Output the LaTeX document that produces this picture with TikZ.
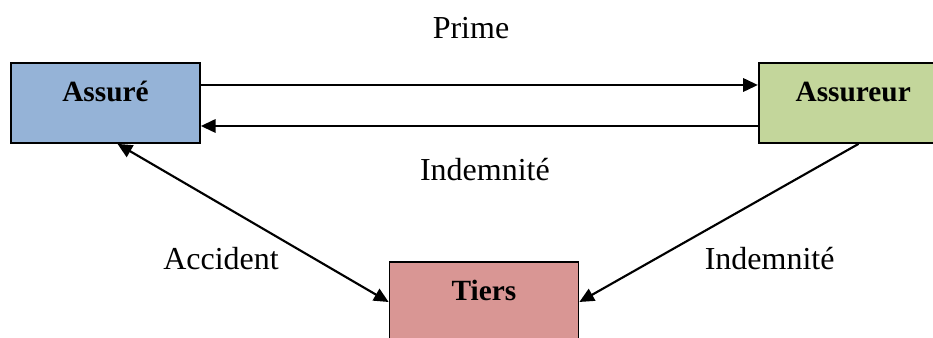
\documentclass[tikz,border=0pt]{standalone}
\usepackage{fontspec}
\setmainfont{Liberation Serif}
\usetikzlibrary{arrows.meta,positioning}
\definecolor{assurebleu}{RGB}{149,179,215}
\definecolor{assureurvert}{RGB}{195,214,155}
\definecolor{tiersrose}{RGB}{217,150,148}

\begin{document}
\begin{tikzpicture}[%
      x=0.75pt,y=0.75pt,
      >={Triangle[length=11pt,width=10pt]}, % filled arrow heads
      font=\fontsize{24}{28}\selectfont
      ]
  \tikzset{
    acteur/.style={draw=black,line width=1.3pt,minimum width=141.75pt,inner sep=0pt,
      text height=29pt,text depth=31pt,font=\fontsize{22}{26}\selectfont\bfseries},
    fleche/.style={->,line width=1.6pt}}
 \useasboundingbox (0,0) rectangle (933,338);

 \node [acteur,fill=assurebleu] (assure) at (105.5,235) {Assuré};
 \node [acteur,fill=assureurvert,right=417.75pt of assure] (assureur) {Assureur};
 \node [acteur,fill=tiersrose] (tiers) at (484,36) {Tiers};

 \draw[fleche] ([yshift=13.5pt]assure.east) -- node[pos=0.485,yshift=43pt] (prime) {Prime} ([yshift=13.5pt]assureur.west);
 \draw[fleche] ([yshift=-17.25pt]assureur.west) -- node[pos=0.49,yshift=-33pt] (indemnite1) {Indemnité} ([yshift=-17.25pt]assure.east);
 \draw[fleche,<->] ([xshift=9pt]assure.south) -- node[xshift=-24pt,yshift=-27pt] (accident) {Accident} (tiers.west);
 \draw[fleche] ([xshift=4pt]assureur.south) -- node[xshift=38pt,yshift=-27pt] (indemnite2) {Indemnité} (tiers.east);
\end{tikzpicture}
\end{document}
